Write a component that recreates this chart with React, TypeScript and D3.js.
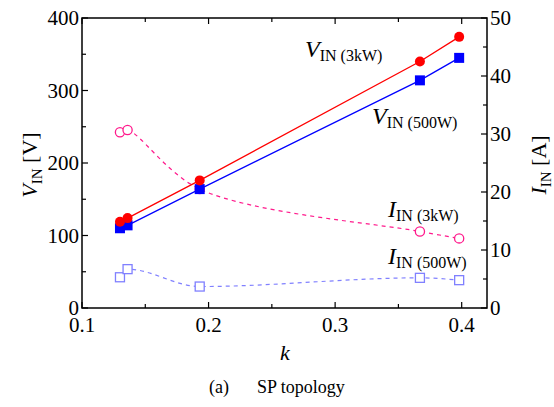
import React from "react";
import * as d3 from "d3";

// Coupling coefficient k for each measured design point
const kValues = [0.13, 0.136, 0.193, 0.367, 0.398];

// Input voltage [V]
const vIn3kW = [119, 124, 176, 340, 374];
const vIn500W = [110, 114, 164, 314, 345];

// Input current [A]
const iIn3kW = [30.3, 30.7, 20.5, 13.2, 12.0];
const iIn500W = [5.3, 6.7, 3.7, 5.2, 4.8];

const xTicks = [0.1, 0.2, 0.3, 0.4];
const xMinorTicks = [0.15, 0.25, 0.35];
const vTicks = [0, 100, 200, 300, 400];
const vMinorTicks = [50, 150, 250, 350];
const iTicks = [0, 10, 20, 30, 40, 50];
const iMinorTicks = [5, 15, 25, 35, 45];

const W = 554;
const H = 407;
const M = { left: 82, right: 487, top: 18, bottom: 308 };
const FONT = "'Times New Roman', Tinos, 'Liberation Serif', 'DejaVu Serif', serif";

const RED = "#ff0000";
const BLUE = "#0000ff";
const PINK = "#ff1a8c";
const LIGHT_BLUE = "#8080ff";

export default function App() {
  const x = d3.scaleLinear().domain([0.1, 0.42]).range([M.left, M.right]);
  const yV = d3.scaleLinear().domain([0, 400]).range([M.bottom, M.top]);
  const yI = d3.scaleLinear().domain([0, 50]).range([M.bottom, M.top]);

  const lineV = (vals: number[]) =>
    d3.line<number>().x((_, i) => x(kValues[i])).y((d) => yV(d))(vals) || "";
  const lineI = (vals: number[], curve: d3.CurveFactory) =>
    d3
      .line<number>()
      .x((_, i) => x(kValues[i]))
      .y((d) => yI(d))
      .curve(curve)(vals) || "";

  const major = 6;
  const minor = 4;

  return (
    <svg
      width={W}
      height={H}
      style={{ display: "block", position: "absolute", left: 0, top: 0, fontFamily: FONT }}
    >
      <rect width={W} height={H} fill="#fff" />

      {/* Data series */}
      <path d={lineI(iIn3kW, d3.curveCatmullRom.alpha(0.5))} fill="none" stroke={PINK} strokeWidth={1.2} strokeDasharray="4,4" />
      <path d={lineI(iIn500W, d3.curveMonotoneX)} fill="none" stroke={LIGHT_BLUE} strokeWidth={1.2} strokeDasharray="4,4" />
      <path d={lineV(vIn3kW)} fill="none" stroke={RED} strokeWidth={1.3} />
      <path d={lineV(vIn500W)} fill="none" stroke={BLUE} strokeWidth={1.3} />

      {iIn3kW.map((v, i) => (
        <circle key={"ic" + i} cx={x(kValues[i])} cy={yI(v)} r={4.6} fill="#fff" stroke={PINK} strokeWidth={1.3} />
      ))}
      {iIn500W.map((v, i) => (
        <rect key={"is" + i} x={x(kValues[i]) - 4.5} y={yI(v) - 4.5} width={9} height={9} fill="#fff" stroke={LIGHT_BLUE} strokeWidth={1.3} />
      ))}
      {vIn500W.map((v, i) => (
        <rect key={"vs" + i} x={x(kValues[i]) - 5} y={yV(v) - 5} width={10} height={10} fill={BLUE} />
      ))}
      {vIn3kW.map((v, i) => (
        <circle key={"vc" + i} cx={x(kValues[i])} cy={yV(v)} r={5} fill={RED} />
      ))}

      {/* Frame */}
      <rect x={M.left} y={M.top} width={M.right - M.left} height={M.bottom - M.top} fill="none" stroke="#000" strokeWidth={1.5} />

      {/* X ticks (bottom and top, inward) */}
      {xTicks.map((t) => (
        <g key={"xt" + t}>
          <line x1={x(t)} x2={x(t)} y1={M.bottom} y2={M.bottom - major} stroke="#000" strokeWidth={1.2} />
          <line x1={x(t)} x2={x(t)} y1={M.top} y2={M.top + major} stroke="#000" strokeWidth={1.2} />
          <text x={x(t)} y={M.bottom + 24} textAnchor="middle" fontSize={21}>
            {t.toFixed(1)}
          </text>
        </g>
      ))}
      {xMinorTicks.map((t) => (
        <g key={"xm" + t}>
          <line x1={x(t)} x2={x(t)} y1={M.bottom} y2={M.bottom - minor} stroke="#000" strokeWidth={1.2} />
          <line x1={x(t)} x2={x(t)} y1={M.top} y2={M.top + minor} stroke="#000" strokeWidth={1.2} />
        </g>
      ))}

      {/* Left axis: V_IN */}
      {vTicks.map((t) => (
        <g key={"vt" + t}>
          <line x1={M.left} x2={M.left + major} y1={yV(t)} y2={yV(t)} stroke="#000" strokeWidth={1.2} />
          <text x={M.left - 3} y={yV(t) + 7} textAnchor="end" fontSize={21}>
            {t}
          </text>
        </g>
      ))}
      {vMinorTicks.map((t) => (
        <line key={"vm" + t} x1={M.left} x2={M.left + minor} y1={yV(t)} y2={yV(t)} stroke="#000" strokeWidth={1.2} />
      ))}

      {/* Right axis: I_IN */}
      {iTicks.map((t) => (
        <g key={"it" + t}>
          <line x1={M.right} x2={M.right - major} y1={yI(t)} y2={yI(t)} stroke="#000" strokeWidth={1.2} />
          <text x={M.right + 3} y={yI(t) + 7} textAnchor="start" fontSize={21}>
            {t}
          </text>
        </g>
      ))}
      {iMinorTicks.map((t) => (
        <line key={"im" + t} x1={M.right} x2={M.right - minor} y1={yI(t)} y2={yI(t)} stroke="#000" strokeWidth={1.2} />
      ))}

      {/* Axis titles */}
      <text transform="translate(37,165) rotate(-90)" textAnchor="middle" fontSize={22}>
        <tspan fontStyle="italic">V</tspan>
        <tspan fontSize={15} dy={5}>IN</tspan>
        <tspan dy={-5}> [V]</tspan>
      </text>
      <text transform="translate(546,165) rotate(-90)" textAnchor="middle" fontSize={22}>
        <tspan fontStyle="italic">I</tspan>
        <tspan fontSize={15} dy={5}>IN</tspan>
        <tspan dy={-5}> [A]</tspan>
      </text>
      <text x={285} y={360} textAnchor="middle" fontSize={22} fontStyle="italic">
        k
      </text>

      {/* Series labels */}
      <text x={305} y={57} fontSize={24}>
        <tspan fontStyle="italic">V</tspan>
        <tspan fontSize={16} dy={4}>IN (3kW)</tspan>
      </text>
      <text x={372} y={124} fontSize={24}>
        <tspan fontStyle="italic">V</tspan>
        <tspan fontSize={16} dy={4}>IN (500W)</tspan>
      </text>
      <text x={388} y={217} fontSize={24}>
        <tspan fontStyle="italic">I</tspan>
        <tspan fontSize={16} dy={4}>IN (3kW)</tspan>
      </text>
      <text x={388} y={264} fontSize={24}>
        <tspan fontStyle="italic">I</tspan>
        <tspan fontSize={16} dy={4}>IN (500W)</tspan>
      </text>

      {/* Caption */}
      <text x={209} y={393} fontSize={18}>
        (a)
      </text>
      <text x={257} y={393} fontSize={18}>
        SP topology
      </text>
    </svg>
  );
}
